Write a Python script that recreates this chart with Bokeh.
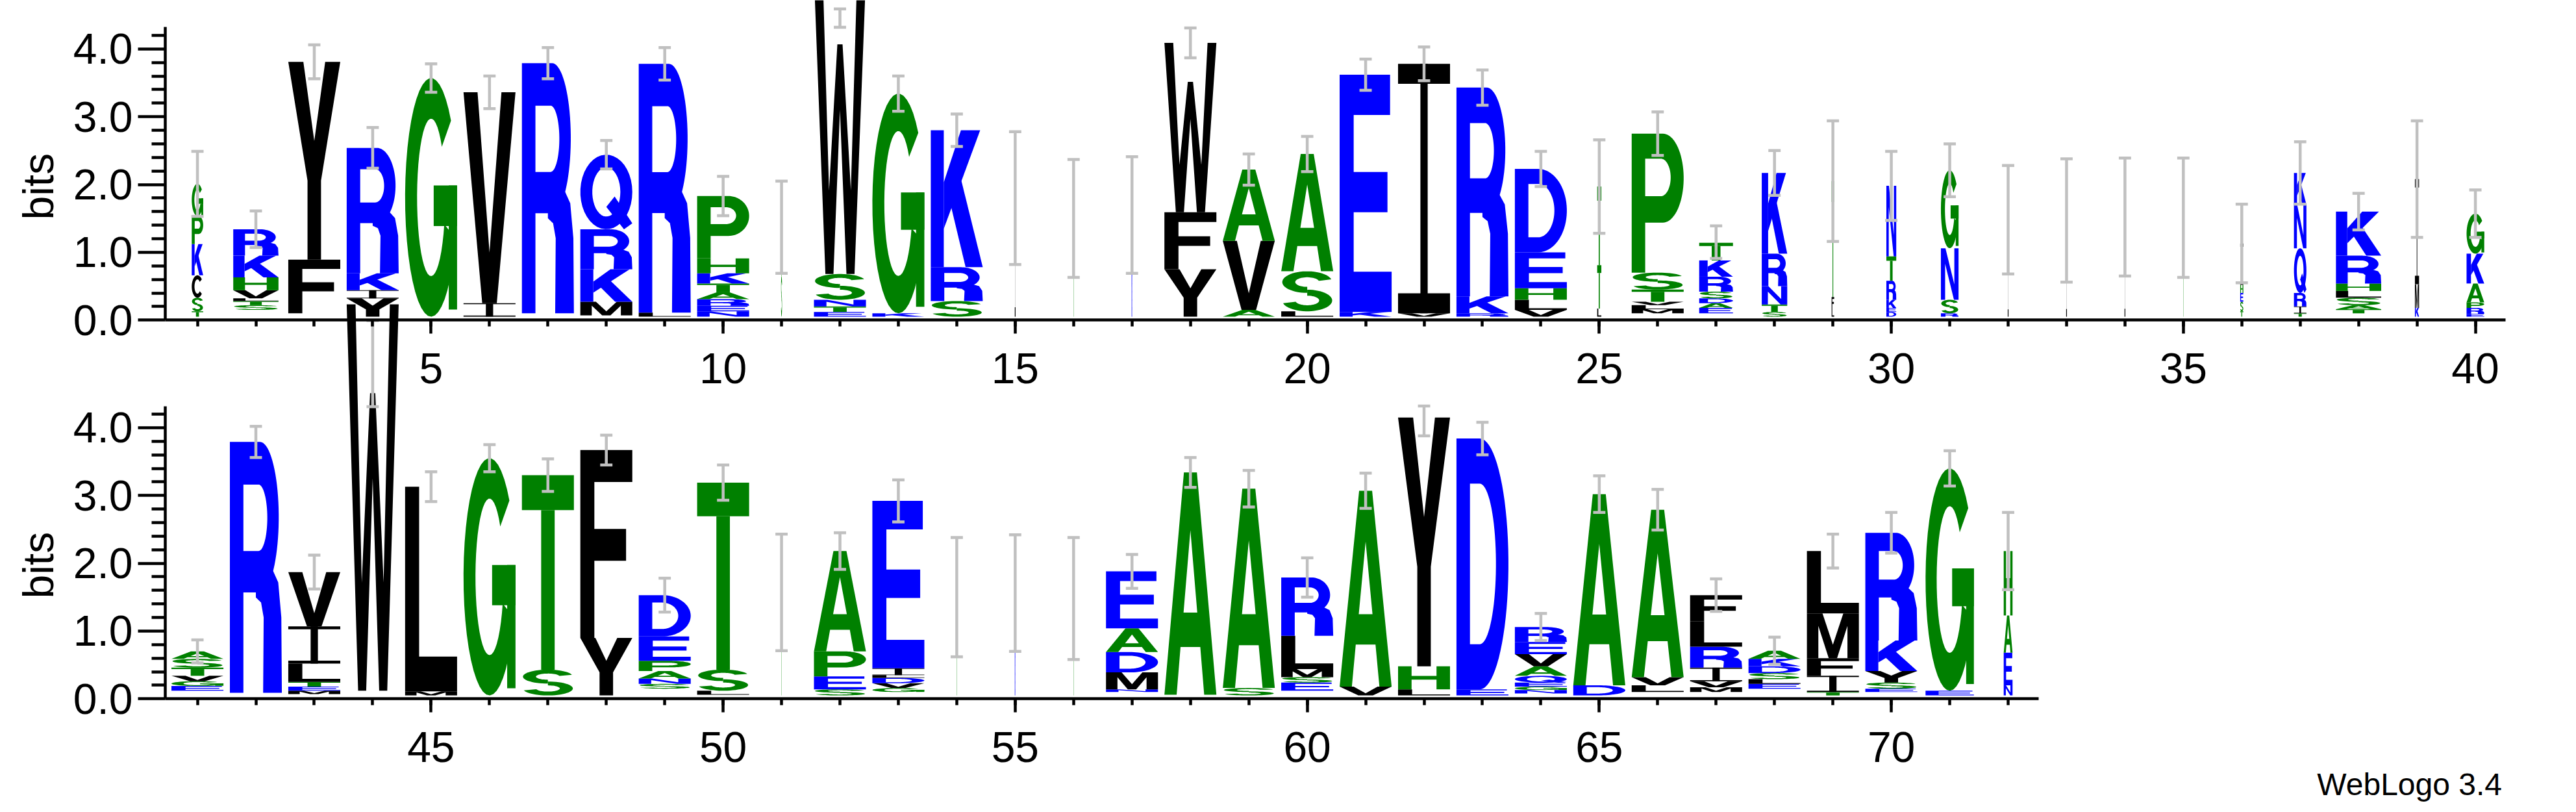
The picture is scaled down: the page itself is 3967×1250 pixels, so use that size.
import numpy as np
from bokeh.plotting import figure
from bokeh.models import (Range1d, LinearAxis, FixedTicker, PrintfTickFormatter,
                          Label, ColumnDataSource)
from bokeh.embed import file_html
from bokeh.resources import INLINE

# ------------------------------------------------------------------ data
# stacks are listed bottom -> top; heights in bits
top_pos = list(range(1, 41))
top_letters = ["TSCKPG", "STLVHKR", "FY", "YIKR", "G", "IV", "R", "MKRQ", "LR", "NERATKHP",
               "STK", "ETNSW", "KG", "SRK", "I", "T", "K", "YFW", "AVA", "LSA",
               "KE", "VI", "RKR", "VLHED", "LTT", "MLVTSP", "EADSRKT", "STNRK", "LFT", "DEKRTN",
               "RSNG", "IK", "I", "I", "T", "TSEHI", "TIRQNK", "TASLHRK", "KMI", "ERPAKG"]
top_heights = [
    [0.08, 0.20, 0.33, 0.46, 0.415, 0.475], [0.07, 0.06, 0.04, 0.12, 0.19, 0.32, 0.39],
    [0.79, 2.92], [0.27, 0.12, 0.25, 1.85], [3.52], [0.20, 3.11], [3.69],
    [0.20, 0.48, 0.59, 1.10], [0.06, 3.67], [0.08, 0.08, 0.10, 0.10, 0.13, 0.15, 0.22, 0.92],
    [0.60, 0.65, 0.07], [0.07, 0.08, 0.10, 0.38, 4.40], [0.05, 3.24], [0.23, 0.50, 2.02],
    [1.75], [1.45], [1.50], [0.70, 0.84, 2.50], [0.10, 1.02, 1.05], [0.08, 0.59, 1.73],
    [0.07, 3.50], [0.05, 3.68], [0.05, 0.25, 3.08], [0.10, 0.15, 0.17, 0.53, 1.23],
    [0.12, 0.64, 1.16], [0.06, 0.06, 0.05, 0.18, 0.25, 2.05],
    [0.08, 0.07, 0.07, 0.10, 0.22, 0.24, 0.26], [0.07, 0.11, 0.27, 0.48, 1.19],
    [0.12, 0.17, 1.71], [0.07, 0.06, 0.12, 0.28, 0.36, 1.04], [0.05, 0.20, 0.76, 1.15],
    [1.35, 0.08], [1.42], [1.47], [1.46], [0.08, 0.14, 0.13, 0.12, 0.61],
    [0.05, 0.10, 0.20, 0.66, 0.64, 0.47], [0.06, 0.06, 0.11, 0.10, 0.11, 0.41, 0.65],
    [0.13, 0.35, 1.55], [0.04, 0.09, 0.08, 0.28, 0.44, 0.59]]
top_base = [0.05, 0.15, 0.10, 0.05, 0.05, 0.05, 0.10, 0.07, 0.05, 0.05,
            0.05, 0.05, 0.05, 0.05, 0.05, 0.05, 0.05, 0.05, 0.05, 0.05,
            0.05, 0.05, 0.05, 0.05, 0.05, 0.10, 0.10, 0.05, 0.05, 0.05,
            0.05, 0.05, 0.05, 0.05, 0.05, 0.05, 0.05, 0.10, 0.05, 0.05]
top_width = [0.22, 0.87, 1, 1, 1, 1, 1, 1, 1, 1,
             0.02, 1, 1, 1, 0.015, 0.015, 0.015, 1, 1, 1,
             1, 1, 1, 1, 0.08, 1, 0.65, 0.49, 0.05, 0.19,
             0.34, 0.015, 0.015, 0.015, 0.015, 0.06, 0.24, 0.87, 0.08, 0.34]
top_err_lo = [1.53, 1.07, 3.56, 2.24, 3.36, 3.12, 3.56, 2.23, 3.54, 1.54,
              0.69, 4.32, 3.08, 2.56, 0.82, 0.63, 0.69, 3.87, 1.99, 2.19,
              3.39, 3.53, 3.17, 1.97, 1.28, 2.43, 0.91, 1.84, 1.16, 1.47,
              1.82, 0.68, 0.56, 0.65, 0.63, 0.55, 1.71, 1.33, 1.22, 1.22]
top_err_hi = [2.49, 1.61, 4.06, 2.84, 3.78, 3.60, 4.02, 2.65, 4.02, 2.12,
              2.05, 4.59, 3.60, 3.04, 2.78, 2.37, 2.41, 4.31, 2.45, 2.71,
              3.85, 4.03, 3.69, 2.49, 2.66, 3.07, 1.39, 2.50, 2.94, 2.49,
              2.60, 2.28, 2.38, 2.39, 2.39, 1.71, 2.63, 1.87, 2.94, 1.92]

bot_pos = list(range(41, 73))
bot_letters = ["EGVTSA", "R", "METLIV", "W", "ML", "G", "ST", "YF", "SNAPED", "LST",
               "T", "SEPA", "GVDLIE", "T", "K", "T", "NMDAE", "A", "SA", "ESMLR",
               "VA", "LHY", "ED", "NGEQAVER", "DA", "LVA", "MVIRLF", "ELSDKA", "TIFML", "ESYKR",
               "EG", "NEAH"]
bot_heights = [
    [0.07, 0.07, 0.08, 0.12, 0.13, 0.11], [3.70], [0.05, 0.06, 0.07, 0.27, 0.55, 0.80],
    [5.70], [0.06, 3.02], [3.50], [0.38, 2.87], [0.85, 2.77],
    [0.07, 0.08, 0.11, 0.15, 0.36, 0.61], [0.06, 0.31, 2.76],
    [1.52], [0.09, 0.19, 0.37, 1.48], [0.06, 0.07, 0.08, 0.04, 0.10, 2.47],
    [1.45], [1.51], [1.43], [0.04, 0.25, 0.30, 0.35, 0.84], [3.28], [0.11, 2.94],
    [0.12, 0.08, 0.12, 0.49, 0.86], [0.13, 2.89], [0.09, 0.34, 3.67], [0.09, 3.70],
    [0.05, 0.05, 0.06, 0.10, 0.14, 0.18, 0.18, 0.22], [0.15, 2.82], [0.10, 0.12, 2.47],
    [0.07, 0.09, 0.20, 0.31, 0.37, 0.39], [0.07, 0.07, 0.09, 0.10, 0.11, 0.12],
    [0.05, 0.24, 0.26, 0.66, 0.92], [0.05, 0.09, 0.17, 0.45, 1.59], [0.07, 3.28],
    [0.15, 0.48, 0.55, 0.95]]
bot_base = [0.12, 0.09, 0.07, 0.12, 0.05, 0.05, 0.05, 0.05, 0.15, 0.06,
            0.05, 0.05, 0.10, 0.05, 0.05, 0.05, 0.10, 0.06, 0.05, 0.12,
            0.05, 0.05, 0.05, 0.08, 0.05, 0.10, 0.10, 0.15, 0.05, 0.10,
            0.05, 0.05]
bot_width = [1, 1, 1, 1, 1, 1, 1, 1, 1, 1,
             0.015, 1, 1, 0.015, 0.015, 0.015, 1, 1, 1, 1,
             1, 1, 1, 1, 1, 1, 1, 1, 1, 1,
             0.93, 0.17]
bot_err_lo = [0.53, 3.56, 1.62, 4.31, 2.91, 3.35, 3.06, 3.45, 1.28, 2.93,
              0.71, 1.91, 2.61, 0.62, 0.70, 0.58, 1.63, 3.12, 2.83, 1.50,
              2.81, 3.88, 3.60, 0.86, 2.75, 2.49, 1.29, 0.51, 1.93, 2.15,
              3.14, 1.61]
bot_err_hi = [0.87, 4.02, 2.12, 5.58, 3.35, 3.75, 3.54, 3.89, 1.78, 3.45,
              2.43, 2.45, 3.23, 2.38, 2.42, 2.38, 2.13, 3.56, 3.37, 2.08,
              3.33, 4.32, 4.08, 1.26, 3.29, 3.09, 1.77, 0.91, 2.43, 2.75,
              3.66, 2.75]

top_xticks = [5, 10, 15, 20, 25, 30, 35, 40]
bot_xticks = [45, 50, 55, 60, 65, 70]
y_ticks = [0, 1, 2, 3, 4]
y_ticklabels_fmt = "%.1f"

# ------------------------------------------------------------------ colours (hydrophobicity)
COLOR = {}
for c in "RKDENQ":
    COLOR[c] = "#0000ff"
for c in "SGHTAP":
    COLOR[c] = "#008000"
for c in "YVMCLFIW":
    COLOR[c] = "#000000"

# ------------------------------------------------------------------ letter outlines (unit box)
def ell(cx, cy, rx, ry, a0, a1, n=40):
    t = np.radians(np.linspace(a0, a1, n))
    return [(cx + rx * np.cos(a), cy + ry * np.sin(a)) for a in t]

def rect(x0, y0, x1, y1):
    return [[(x0, y0), (x1, y0), (x1, y1), (x0, y1)]]

def poly(*pts):
    return [list(pts)]

def band(cx, cy, rxo, ryo, rxi, ryi, a0, a1):
    return [ell(cx, cy, rxo, ryo, a0, a1) + ell(cx, cy, rxi, ryi, a1, a0)]

GLYPHS = {
    "A": [[[(0, 0), (0.375, 1), (0.625, 1), (1, 0), (0.765, 0), (0.69, 0.215), (0.31, 0.215), (0.235, 0)],
           [(0.368, 0.37), (0.632, 0.37), (0.5, 0.74)]]],
    "C": [band(0.5, 0.5, 0.5, 0.5, 0.26, 0.32, 40, 320)],
    "D": [[[(0, 0), (0, 1), (0.45, 1)] + ell(0.45, 0.5, 0.55, 0.5, 90, -90) + [(0.45, 0)],
           [(0.26, 0.18), (0.26, 0.82), (0.45, 0.82)] + ell(0.45, 0.5, 0.31, 0.32, 90, -90) + [(0.45, 0.18)]]],
    "E": [poly((0, 0), (1, 0), (1, 0.17), (0.27, 0.17), (0.27, 0.42), (0.92, 0.42), (0.92, 0.59),
               (0.27, 0.59), (0.27, 0.83), (0.97, 0.83), (0.97, 1), (0, 1))],
    "F": [poly((0, 0), (0.27, 0), (0.27, 0.41), (0.88, 0.41), (0.88, 0.58), (0.27, 0.58),
               (0.27, 0.83), (1, 0.83), (1, 1), (0, 1))],
    "G": [band(0.5, 0.5, 0.5, 0.5, 0.27, 0.33, 40, 340), rect(0.55, 0.38, 1.0, 0.55),
          rect(0.84, 0.03, 1.0, 0.55)],
    "H": [rect(0, 0, 0.26, 1), rect(0.74, 0, 1, 1), rect(0.2, 0.42, 0.8, 0.58)],
    "I": [rect(0, 0, 1, 0.08), rect(0, 0.92, 1, 1), rect(0.43, 0, 0.57, 1)],
    "K": [rect(0, 0, 0.25, 1), poly((0.25, 0.28), (0.95, 1.0), (0.58, 1.0), (0.25, 0.62)),
          poly((0.38, 0.46), (0.67, 0), (1.0, 0), (0.57, 0.66))],
    "L": [poly((0, 0), (1, 0), (1, 0.17), (0.27, 0.17), (0.27, 1), (0, 1))],
    "M": [poly((0, 0), (0, 1), (0.3, 1), (0.5, 0.3), (0.7, 1), (1, 1), (1, 0), (0.78, 0),
               (0.78, 0.72), (0.58, 0), (0.42, 0), (0.22, 0.72), (0.22, 0))],
    "N": [poly((0, 0), (0, 1), (0.26, 1), (0.76, 0.3), (0.76, 1), (1, 1), (1, 0), (0.74, 0),
               (0.24, 0.7), (0.24, 0))],
    "O": [[ell(0.5, 0.5, 0.5, 0.5, 0, 360), ell(0.5, 0.5, 0.27, 0.33, 0, 360)]],
    "P": [[[(0, 0), (0.26, 0), (0.26, 0.36), (0.6, 0.36)] + ell(0.6, 0.68, 0.4, 0.32, -90, 90) + [(0, 1)],
           [(0.26, 0.55), (0.56, 0.55)] + ell(0.56, 0.685, 0.19, 0.135, -90, 90) + [(0.26, 0.82)]]],
    "Q": [[ell(0.5, 0.5, 0.5, 0.5, 0, 360), ell(0.5, 0.5, 0.27, 0.33, 0, 360)],
          poly((0.5, 0.3), (0.66, 0.44), (1.0, 0.08), (0.84, 0.0))],
    "R": [[[(0, 0), (0.26, 0), (0.26, 0.4), (0.58, 0.4)] + ell(0.58, 0.7, 0.36, 0.3, -90, 90) + [(0, 1)],
           [(0.26, 0.565), (0.55, 0.565)] + ell(0.55, 0.6975, 0.17, 0.1325, -90, 90) + [(0.26, 0.83)]],
          poly((0.64, 0), (1.0, 0), (0.99, 0.3), (0.93, 0.44), (0.80, 0.5), (0.5, 0.5),
               (0.5, 0.38), (0.6, 0.36), (0.65, 0.3))],
    "S": [band(0.5, 0.73, 0.48, 0.27, 0.23, 0.12, 15, 270),
          band(0.5, 0.27, 0.48, 0.27, 0.23, 0.12, 90, -165)],
    "T": [rect(0, 0.82, 1, 1), rect(0.37, 0, 0.63, 0.82)],
    "V": [poly((0, 1), (0.27, 1), (0.5, 0.24), (0.73, 1), (1, 1), (0.64, 0), (0.36, 0))],
    "W": [poly((0, 1), (0.17, 1), (0.29, 0.28), (0.45, 0.77), (0.55, 0.77), (0.71, 0.28),
               (0.83, 1), (1, 1), (0.78, 0), (0.625, 0), (0.5, 0.55), (0.375, 0), (0.22, 0))],
    "Y": [poly((0, 1), (0.29, 1), (0.5, 0.6), (0.71, 1), (1, 1), (0.63, 0.4), (0.63, 0),
               (0.37, 0), (0.37, 0.4))],
}

FULL_W = 0.89     # stack width (position units) at full occupancy
CAP = 0.105       # half width of error-bar caps

def build_letters(positions, letters, heights, base, width):
    xs, ys, cols = [], [], []
    for p, let, hs, b, w in zip(positions, letters, heights, base, width):
        y0 = b
        ww = FULL_W * w
        x0 = p - ww / 2
        for ch, h in zip(let, hs):
            for pg in GLYPHS[ch]:
                rx = [[x0 + u * ww for u, v in ring] for ring in pg]
                ry = [[y0 + v * h for u, v in ring] for ring in pg]
                xs.append([rx])
                ys.append([ry])
                cols.append(COLOR[ch])
            y0 += h
    return ColumnDataSource(dict(xs=xs, ys=ys, color=cols))

def build_err(positions, lo, hi):
    x0, y0, x1, y1 = [], [], [], []
    for p, l, h in zip(positions, lo, hi):
        x0 += [p, p - CAP, p - CAP]
        x1 += [p, p + CAP, p + CAP]
        y0 += [l, l, h]
        y1 += [h, l, h]
    return ColumnDataSource(dict(x0=x0, y0=y0, x1=x1, y1=y1))

# ------------------------------------------------------------------ figure
W, H = 3951, 1234
p = figure(width=W, height=H, x_range=Range1d(-2.375, 41.55), y_range=Range1d(-7.108, 4.717),
           x_axis_type=None, y_axis_type=None, toolbar_location=None, output_backend="svg",
           min_border=0, min_border_left=0, min_border_right=0, min_border_top=0,
           min_border_bottom=0, outline_line_color=None)
p.extra_x_ranges = {"bx": Range1d(37.625, 81.55)}
p.extra_y_ranges = {"by": Range1d(-1.521, 10.305)}
p.background_fill_color = "white"
p.border_fill_color = "white"

# letters
p.multi_polygons(xs="xs", ys="ys", fill_color="color", line_color=None,
                 source=build_letters(top_pos, top_letters, top_heights, top_base, top_width))
p.multi_polygons(xs="xs", ys="ys", fill_color="color", line_color=None,
                 source=build_letters(bot_pos, bot_letters, bot_heights, bot_base, bot_width),
                 x_range_name="bx", y_range_name="by")

# error bars
p.segment(x0="x0", y0="y0", x1="x1", y1="y1", line_color="#c0c0c0", line_width=4.5,
          source=build_err(top_pos, top_err_lo, top_err_hi))
p.segment(x0="x0", y0="y0", x1="x1", y1="y1", line_color="#c0c0c0", line_width=4.5,
          source=build_err(bot_pos, bot_err_lo, bot_err_hi), x_range_name="bx", y_range_name="by")

# axes
FONT = "Liberation Sans"
y_minor = [round(0.2 * i, 1) for i in range(1, 22) if i % 5 != 0]

def style(ax):
    ax.axis_line_width = 4.5
    ax.axis_line_color = "black"
    ax.major_tick_line_width = 4.5
    ax.minor_tick_line_width = 4.5
    ax.major_tick_line_color = "black"
    ax.minor_tick_line_color = "black"
    ax.major_tick_in = 0
    ax.minor_tick_in = 0
    ax.major_label_text_font = FONT
    ax.major_label_text_font_size = "66px"
    ax.major_label_text_color = "black"

def add_axes(xr, yr, x_axis_at, xbounds, xticks, xminor):
    kw = {}
    if xr is not None:
        kw = dict(x_range_name=xr, y_range_name=yr)
    yax = LinearAxis(fixed_location=x_axis_at, bounds=(0, 4.32),
                     ticker=FixedTicker(ticks=y_ticks, minor_ticks=y_minor),
                     formatter=PrintfTickFormatter(format=y_ticklabels_fmt), **kw)
    style(yax)
    yax.major_tick_out = 42
    yax.minor_tick_out = 21
    yax.major_label_standoff = 8
    p.add_layout(yax, "left")
    xax = LinearAxis(fixed_location=0, bounds=xbounds,
                     ticker=FixedTicker(ticks=xticks, minor_ticks=xminor), **kw)
    style(xax)
    xax.major_tick_out = 21
    xax.minor_tick_out = 10
    xax.major_label_standoff = 30
    p.add_layout(xax, "below")

add_axes(None, None, 0.449, (0.449, 40.52), top_xticks, top_pos)
add_axes("bx", "by", 40.449, (40.449, 72.52), bot_xticks, bot_pos)

p.add_layout(Label(x=-1.73, y=1.97, text="bits", angle=np.pi / 2, text_align="center",
                   text_baseline="middle", text_font=FONT, text_font_size="66px",
                   text_color="black"))
p.add_layout(Label(x=38.27, y=1.97, text="bits", angle=np.pi / 2, text_align="center",
                   text_baseline="middle", text_font=FONT, text_font_size="66px",
                   text_color="black", x_range_name="bx", y_range_name="by"))
p.add_layout(Label(x=80.455, y=-1.26, text="WebLogo 3.4", text_align="right",
                   text_baseline="middle", text_font=FONT, text_font_size="48px",
                   text_color="black", x_range_name="bx", y_range_name="by"))

open("out.html", "w").write(file_html(p, INLINE))
